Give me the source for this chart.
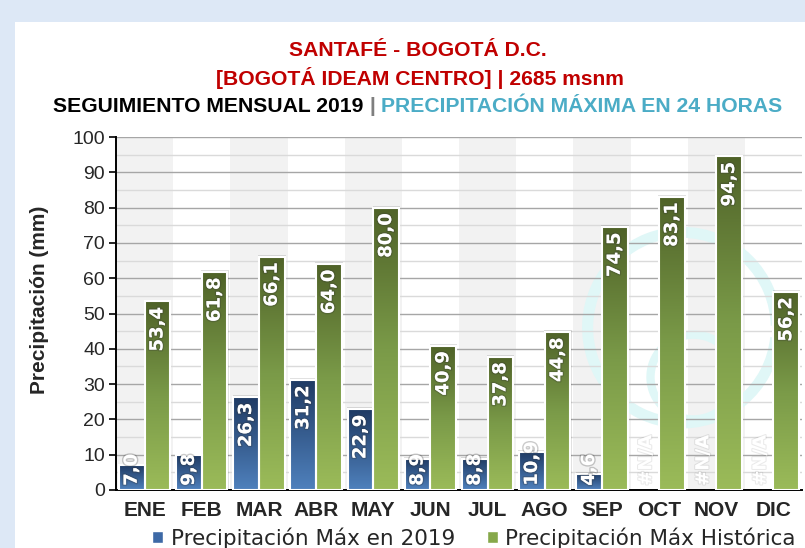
import numpy as np, pandas as pd, seaborn as sns, matplotlib.pyplot as plt
import matplotlib.patheffects as pe
from matplotlib.colors import LinearSegmentedColormap
from matplotlib.patches import Rectangle, Patch, Arc

# datos (mm)
meses = ['ENE', 'FEB', 'MAR', 'ABR', 'MAY', 'JUN', 'JUL', 'AGO', 'SEP', 'OCT', 'NOV', 'DIC']
max_2019 = [7.0, 9.8, 26.3, 31.2, 22.9, 8.9, 8.8, 10.9, 4.6, np.nan, np.nan, np.nan]
max_hist = [53.4, 61.8, 66.1, 64.0, 80.0, 40.9, 37.8, 44.8, 74.5, 83.1, 94.5, 56.2]
series = ['Precipitación Máx en 2019', 'Precipitación Máx Histórica']

df = pd.DataFrame({'mes': meses * 2,
                   'serie': [series[0]] * 12 + [series[1]] * 12,
                   'valor': max_2019 + max_hist})

sns.set_style('white')
narrow = ['Liberation Sans Narrow', 'Liberation Sans', 'DejaVu Sans']
plt.rcParams['font.family'] = narrow

W, H = 805, 548
fig = plt.figure(figsize=(W / 100, H / 100), dpi=100)
fig.patch.set_facecolor('#dde8f6')
fig.patches.append(Rectangle((15 / W, 0), 1, 1 - 22 / H, transform=fig.transFigure,
                             facecolor='white', edgecolor='none', zorder=-5))
ax = fig.add_axes([116 / W, 58 / H, 686 / W, 353 / H])
ax.set_facecolor('white')

# bandas alternas
for i in range(0, 12, 2):
    ax.axvspan(i - 0.5, i + 0.5, color='#f2f2f2', zorder=0, lw=0)

# marca de agua (aprox.)
ax.add_patch(Arc((9.4, 46), 3.3, 54, theta1=20, theta2=300, color='#e0f7f7', lw=8, zorder=0.3))
ax.add_patch(Arc((9.6, 32), 1.5, 24, theta1=60, theta2=330, color='#e0f7f7', lw=6, zorder=0.3))

sns.barplot(data=df.dropna(), x='mes', y='valor', hue='serie', order=meses, hue_order=series,
            palette=['#4f81bd', '#9bbb59'], width=0.9, gap=0, saturation=1,
            edgecolor='white', linewidth=1.5, legend=False, ax=ax)

cmaps = [LinearSegmentedColormap.from_list('b', ['#4f81bd', '#1f3a63']),
         LinearSegmentedColormap.from_list('g', ['#9bbb59', '#7a9a48', '#4f6228'])]
grad = np.linspace(0, 1, 256).reshape(-1, 1)
for k, cont in enumerate(ax.containers):
    for bar in cont:
        h = bar.get_height()
        if not np.isfinite(h) or h <= 0:
            continue
        x0, w = bar.get_x(), bar.get_width()
        ax.add_patch(Rectangle((x0 - 0.012, 0), w + 0.03, h + 0.5, facecolor='black',
                               alpha=0.12, edgecolor='none', zorder=1.9))
        ax.imshow(grad, extent=[x0, x0 + w, 0, h], origin='lower', cmap=cmaps[k],
                  aspect='auto', zorder=2, interpolation='bilinear')
        bar.set_facecolor('none')
        bar.set_zorder(3)

ax.set_xlim(-0.5, 11.5)
ax.set_ylim(0, 100)
ax.set_xlabel('')
ax.set_ylabel('')
ax.set_yticks(range(0, 101, 10))
ax.set_yticks(range(5, 100, 10), minor=True)
ax.yaxis.grid(True, which='major', color='#a6a6a6', lw=1)
ax.yaxis.grid(True, which='minor', color='#dadada', lw=1)
ax.set_axisbelow(True)
ax.set_xticks(range(12))
ax.set_xticks(np.arange(-0.5, 12, 1), minor=True)
ax.set_xticklabels(meses, fontsize=15, fontweight='bold')
ax.tick_params(axis='x', which='major', length=0, pad=8)
ax.tick_params(axis='x', which='minor', length=6, width=1.2, direction='out', color='black')
ax.tick_params(axis='y', which='major', length=5, width=1.2, direction='out', labelsize=14,
               color='black', pad=3, left=True)
ax.tick_params(axis='y', which='minor', length=0)
for s in ['top', 'right']:
    ax.spines[s].set_visible(False)
for s in ['left', 'bottom']:
    ax.spines[s].set_color('black')
    ax.spines[s].set_linewidth(1.4)

fig.text(40 / W, 1 - 300 / H, 'Precipitación (mm)', rotation=90, ha='center', va='center',
         fontsize=15, fontweight='bold')

# etiquetas de valor
fig.canvas.draw()
rend = fig.canvas.get_renderer()
px_per_unit = ax.get_window_extent(rend).height / 100
shadow = [pe.withStroke(linewidth=2, foreground=(0.2, 0.2, 0.2, 0.25))]
faint = [pe.withStroke(linewidth=1.5, foreground=(0.2, 0.2, 0.2, 0.1))]
offsets = [-0.225, 0.225]
for k, vals in enumerate([max_2019, max_hist]):
    for i, v in enumerate(vals):
        xc = i + offsets[k]
        if not np.isfinite(v):
            ax.text(xc, 1.2, '#N/A', rotation=90, ha='center', va='bottom', color='white',
                    fontsize=13, fontweight='bold', family='DejaVu Sans', zorder=5,
                    path_effects=faint)
            continue
        lab = f'{v:.1f}'.replace('.', ',')
        t = ax.text(xc, v - 1.6, lab, rotation=90, ha='center', va='top', color='white',
                    fontsize=13, fontweight='bold', family='DejaVu Sans', zorder=5,
                    path_effects=shadow)
        L = t.get_window_extent(rend).height / px_per_unit
        if L + 2.5 > v:
            t.set_y(1.2)
            t.set_va('bottom')

# titulos
fs_t = 15.2
fig.text(418 / W, 1 - 50 / H, 'SANTAFÉ - BOGOTÁ D.C.', color='#c00000', fontsize=fs_t,
         fontweight='bold', ha='center', va='center')
fig.text(420 / W, 1 - 78 / H, '[BOGOTÁ IDEAM CENTRO] | 2685 msnm', color='#c00000', fontsize=fs_t,
         fontweight='bold', ha='center', va='center')
parts = [('SEGUIMIENTO MENSUAL 2019', 'black'), (' | ', '#7f7f7f'),
         ('PRECIPITACIÓN MÁXIMA EN 24 HORAS', '#4bacc6')]
texts = [fig.text(0, 1 - 107 / H, p, color=c, fontsize=fs_t, fontweight='bold', ha='left',
                  va='center') for p, c in parts]
widths = [t.get_window_extent(rend).width for t in texts]
x = 418 - sum(widths) / 2
for t, wpx in zip(texts, widths):
    t.set_x(x / W)
    x += wpx

handles = [Patch(facecolor='#3d69a6'), Patch(facecolor='#86a84a')]
fig.legend(handles, series, loc='center', bbox_to_anchor=(0.589, 0.018), ncol=2, frameon=False,
           prop={'family': 'DejaVu Sans', 'size': 15.5}, handlelength=0.5, handleheight=0.5,
           handletextpad=0.35, columnspacing=1.5)

fig.savefig('out.png', dpi=100)
